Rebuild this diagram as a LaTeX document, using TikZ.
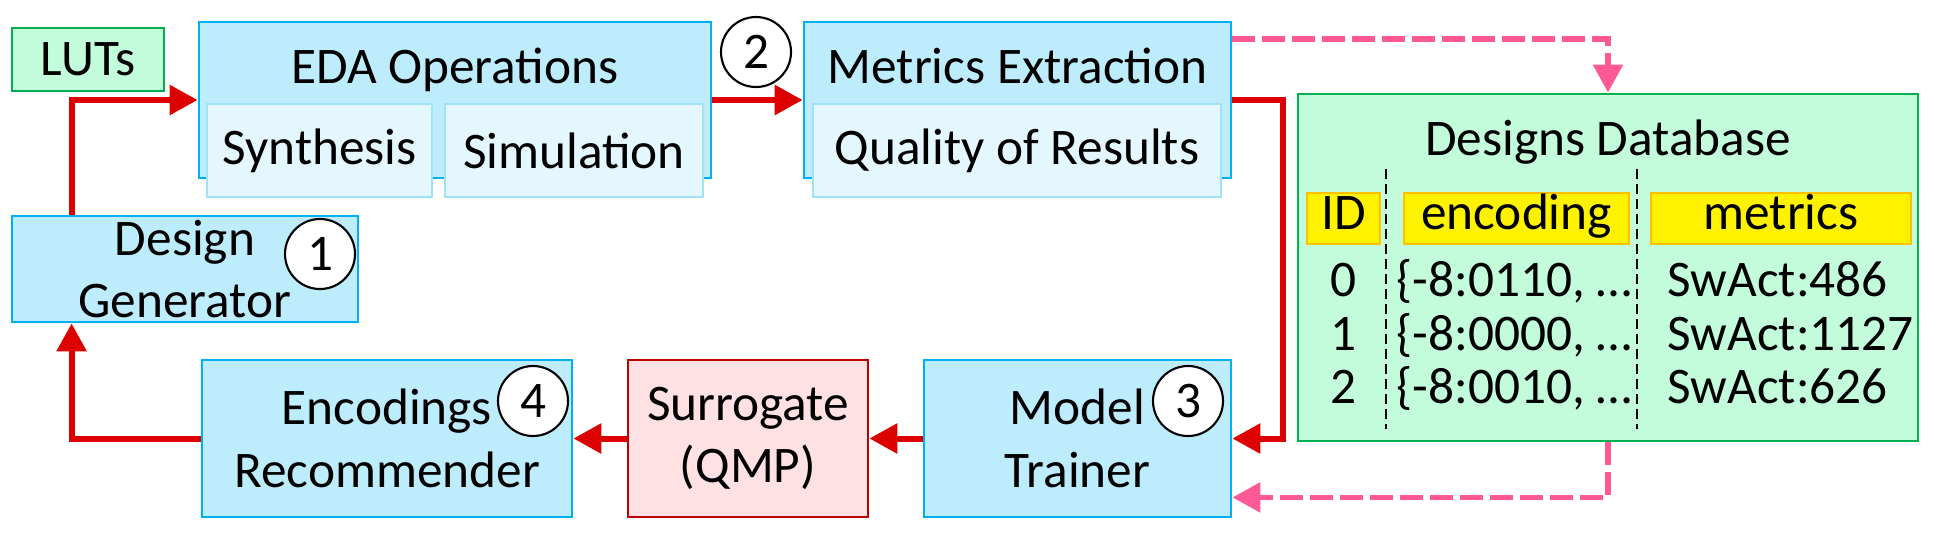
\documentclass[tikz,border=0pt]{standalone}
\usepackage{fontspec}
\setmainfont{Carlito}
\usepackage{tikz}
\usetikzlibrary{positioning, arrows.meta, calc}

\definecolor{boxblue}{HTML}{BDECFD}
\definecolor{lineblue}{HTML}{00B0F0}
\definecolor{subblue}{HTML}{E5F7FE}
\definecolor{sublineblue}{HTML}{A0E2FA}
\definecolor{boxgreen}{HTML}{C2FCDB}
\definecolor{linegreen}{HTML}{00B050}
\definecolor{boxpink}{HTML}{FFE0E3}
\definecolor{linered}{HTML}{C00000}
\definecolor{flowred}{HTML}{DD0000}
\definecolor{datapink}{HTML}{FF5A96}
\definecolor{hdrline}{HTML}{FFC000}

\begin{document}
\begin{tikzpicture}[
  txt/.style={font=\fontsize{14.6}{17.8}\selectfont, inner sep=0pt},
  bbox/.style={txt, align=center, fill=boxblue, draw=lineblue, line width=0.8pt},
  sbox/.style={txt, align=center, fill=subblue, draw=sublineblue, line width=0.8pt,
               minimum height=0.93cm},
  gbox/.style={txt, align=center, fill=boxgreen, draw=linegreen, line width=0.8pt},
  rbox/.style={txt, align=center, fill=boxpink, draw=linered, line width=0.8pt},
  hdr/.style={txt, fill=yellow, draw=hdrline, line width=0.8pt, minimum height=0.51cm,
              text height=0.644em, text depth=0pt},
  num/.style={txt, circle, draw, fill=white, line width=0.6pt, minimum size=0.7cm},
  flow/.style={flowred, line width=1.7pt, -{Triangle[length=0.28cm, width=0.29cm]}},
  data/.style={datapink, line width=1.65pt, dash pattern=on 0.23cm off 0.07cm,
               -{Triangle[length=0.28cm, width=0.29cm]}},
  col/.style={line width=0.6pt, dash pattern=on 0.1cm off 0.05cm},
]
  \useasboundingbox (0,0) rectangle (19.46,-5.36);

  % ═══ TOP ROW: EDA flow ═══════════════════════════════════════
  \node[gbox, minimum width=1.52cm, minimum height=0.63cm] (lut) at (0.88, -0.595) {LUTs};

  \node[bbox, minimum width=5.12cm, minimum height=1.56cm] (eda) at (4.55, -1.00) {};
  \node[txt, anchor=base] (eda_t) at (4.55, -0.83) {EDA Operations};
  \node[sbox, minimum width=2.25cm] (syn) at (3.195, -1.505) {Synthesis};
  \node[sbox, minimum width=2.58cm] (sim) at (5.74, -1.505)  {Simulation};

  \node[bbox, minimum width=4.27cm, minimum height=1.56cm] (met) at (10.175, -1.00) {};
  \node[txt, anchor=base] (met_t) at (10.175, -0.83) {Metrics Extraction};
  \node[sbox, minimum width=4.08cm] (qor) at (10.17, -1.505) {Quality of Results};

  \node[bbox, minimum width=3.46cm, minimum height=1.06cm] (gen) at (1.85, -2.69) {Design\\Generator};

  % ═══ BOTTOM ROW: learning loop ═══════════════════════════════
  \node[bbox, minimum width=3.70cm, minimum height=1.57cm] (enc) at (3.87, -4.385)  {Encodings\\Recommender};
  \node[rbox, minimum width=2.40cm, minimum height=1.57cm] (sur) at (7.48, -4.385)  {Surrogate\\(QMP)};
  \node[bbox, minimum width=3.07cm, minimum height=1.57cm] (trn) at (10.775, -4.385) {Model\\Trainer};

  % step numbers
  \node[num] (n1) at (3.20, -2.54)  {1};
  \node[num] (n2) at (7.56, -0.52)  {2};
  \node[num] (n3) at (11.88, -4.01) {3};
  \node[num] (n4) at (5.33, -4.01)  {4};

  % ═══ RIGHT: designs database ═════════════════════════════════
  \node[gbox, minimum width=6.20cm, minimum height=3.47cm] (db) at (16.08, -2.675) {};
  \node[txt, anchor=base] (db_t) at (16.08, -1.556) {Designs Database};

  \node[hdr, minimum width=0.73cm] (h_id)  at (13.435, -2.185) {ID};
  \node[hdr, minimum width=2.25cm] (h_enc) at (15.165, -2.185) {encoding};
  \node[hdr, minimum width=2.60cm] (h_met) at (17.81, -2.185)  {metrics};

  \coordinate (sep1a) at (13.86, -1.69);
  \coordinate (sep1b) at (13.86, -4.29);
  \coordinate (sep2a) at (16.37, -1.69);
  \coordinate (sep2b) at (16.37, -4.29);
  \draw[col] (sep1a) -- (sep1b);
  \draw[col] (sep2a) -- (sep2b);

  \node[txt, anchor=base] (r0_id) at (13.43, -2.96) {0};
  \node[txt, anchor=base] (r1_id) at (13.43, -3.50) {1};
  \node[txt, anchor=base] (r2_id) at (13.43, -4.03) {2};
  \node[txt, anchor=base west] (r0_enc) at (13.96, -2.96) {\{-8:0110, …};
  \node[txt, anchor=base west] (r1_enc) at (13.96, -3.50) {\{-8:0000, …};
  \node[txt, anchor=base west] (r2_enc) at (13.96, -4.03) {\{-8:0010, …};
  \node[txt, anchor=base west] (r0_met) at (16.67, -2.96) {SwAct:486};
  \node[txt, anchor=base west] (r1_met) at (16.67, -3.50) {SwAct:1127};
  \node[txt, anchor=base west] (r2_met) at (16.67, -4.03) {SwAct:626};

  % ═══ Links ═══════════════════════════════════════════════════
  \draw[flow] ([xshift=0.61cm]gen.north west) |- (eda.west);
  \draw[flow] (eda.east) -- (met.west);
  \draw[flow] (met.east) -- ++(0.51,0) |- (trn.east);
  \draw[flow] (trn.west) -- (sur.east);
  \draw[flow] (sur.west) -- (enc.east);
  \draw[flow] (enc.west) -| ([xshift=0.61cm]gen.south west);

  % database read / write
  \draw[data] ([yshift=-0.18cm]met.north east) -| (db.north);
  \draw[data] (db.south) |- ([yshift=0.21cm]trn.south east);
\end{tikzpicture}
\end{document}
